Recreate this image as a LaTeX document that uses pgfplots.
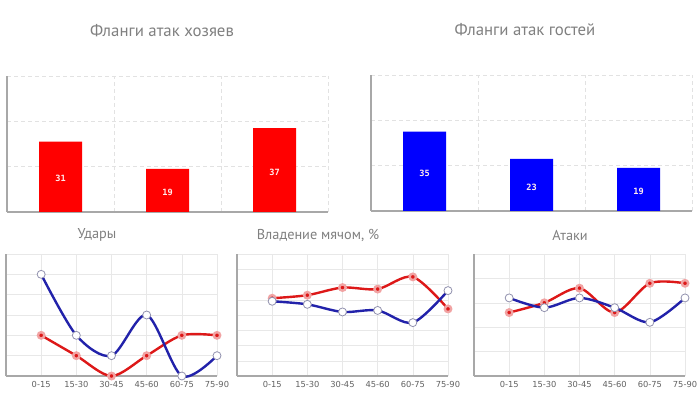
\documentclass[border=0pt]{standalone}
\usepackage{fontspec}
\setmainfont{PT Sans}
\newfontfamily\dejavu{DejaVu Sans}
\newfontfamily\dmono{DejaVu Sans Mono}
\usepackage{pgfplots}
\pgfplotsset{compat=1.18}
\usepackage{pgfplotstable}
\definecolor{titlegray}{HTML}{808080}
\definecolor{axisgray}{HTML}{A8A8A8}
\definecolor{gridgray}{HTML}{E2E2E2}
\definecolor{hred}{HTML}{DD1818}
\definecolor{hblue}{HTML}{2222AA}

\pgfplotstableread{
x v
0 31
1 19
2 37
}\home
\pgfplotstableread{
x v
0 35
1 23
2 19
}\away
\pgfplotstableread{
x h a
0 2 5
1 1 2
2 0 1
3 1 3
4 2 0
5 2 1
}\shots
\pgfplotstableread{
x h a
0 51 49
1 53 47
2 58 42
3 57 43
4 65 35
5 44 56
}\poss
\pgfplotstableread{
x h a
0 13 16
1 15 14
2 18 16
3 13 14
4 19 11
5 19 16
}\attacks

\pgfplotsset{
 barax/.style={
  anchor=south west, scale only axis, width=321pt, height=136pt,
  xmin=-0.5, xmax=2.5, ymin=0, ymax=60,
  xtick={0.5,1.5,2.5}, ytick={20,40,60},
  xticklabels={}, yticklabels={},
  major tick length=0pt,
  grid=major, major grid style={gridgray, dash pattern=on 4pt off 3pt, line width=0.8pt},
  axis x line*=bottom, axis y line*=left,
  axis line style={axisgray, line width=1.2pt, -},
 },
 barlabel/.style={draw=none, mark=none, nodes near coords, point meta=explicit,
  /pgf/number format/assume math mode=true,
  every node near coord/.append style={anchor=center, text=white!92!red, font=\dmono\bfseries\fontsize{8.6}{9}\selectfont, yshift=-2pt}},
 lineax/.style={
  anchor=south west, scale only axis, width=211pt, height=122pt,
  xmin=-1, xmax=5, ymin=0,
  xtick={0,...,5}, xticklabels={0-15,15-30,30-45,45-60,60-75,75-90},
  yticklabels={}, major tick length=0pt,
  grid=major, major grid style={gridgray!80, line width=0.5pt},
  axis x line*=bottom, axis y line*=left, axis line style={axisgray, line width=1.2pt, -},
  xticklabel style={font=\dejavu\fontsize{8.3}{9}\selectfont, text=black!62, yshift=-2pt},
  clip=false,
 },
 homeline/.style={hred, line width=2.4pt, smooth, mark=*, mark size=3.2pt,
  mark options={fill=hred, draw=hred!40, line width=2.4pt}},
 awayline/.style={hblue, line width=2.4pt, smooth, mark=*, mark size=4pt,
  mark options={fill=white, draw=hblue!30!gray!70, line width=0.8pt}},
}

\begin{document}
\begin{tikzpicture}
\path[use as bounding box, fill=white] (0pt,0pt) rectangle (700pt,396pt);

\node[font=\fontsize{16.8}{18}\selectfont, text=titlegray] at (162pt,365pt) {Фланги атак хозяев};
\node[font=\fontsize{16.8}{18}\selectfont, text=titlegray] at (525pt,366pt) {Фланги атак гостей};
\node[font=\fontsize{14.3}{16}\selectfont, text=titlegray] at (97pt,161pt) {Удары};
\node[font=\fontsize{14.3}{16}\selectfont, text=titlegray] at (318pt,161pt) {Владение мячом, \%};
\node[font=\fontsize{14.3}{16}\selectfont, text=titlegray] at (570pt,161pt) {Атаки};

\begin{axis}[barax, at={(7pt,184pt)}]
\addplot[ybar, bar width=43pt, bar shift=0pt, fill=red, draw=none] table[x=x,y=v]{\home};
\addplot[barlabel] table[x=x, y expr=\thisrow{v}/2, meta=v]{\home};
\end{axis}

\begin{axis}[barax, at={(371pt,185pt)}]
\addplot[ybar, bar width=43pt, bar shift=0pt, fill=blue, draw=none] table[x=x,y=v]{\away};
\addplot[barlabel] table[x=x, y expr=\thisrow{v}/2, meta=v]{\away};
\end{axis}

\begin{axis}[lineax, at={(6pt,20pt)}, ymax=6, ytick={0,...,6}]
\addplot[homeline] table[x=x,y=h]{\shots};
\addplot[awayline] table[x=x,y=a]{\shots};
\end{axis}

\begin{axis}[lineax, at={(237pt,20pt)}, ymax=80, ytick={0,10,...,80}]
\addplot[homeline] table[x=x,y=h]{\poss};
\addplot[awayline] table[x=x,y=a]{\poss};
\end{axis}

\begin{axis}[lineax, at={(474pt,20pt)}, ymax=25, ytick={0,5,...,25}]
\addplot[homeline] table[x=x,y=h]{\attacks};
\addplot[awayline] table[x=x,y=a]{\attacks};
\end{axis}
\end{tikzpicture}
\end{document}
